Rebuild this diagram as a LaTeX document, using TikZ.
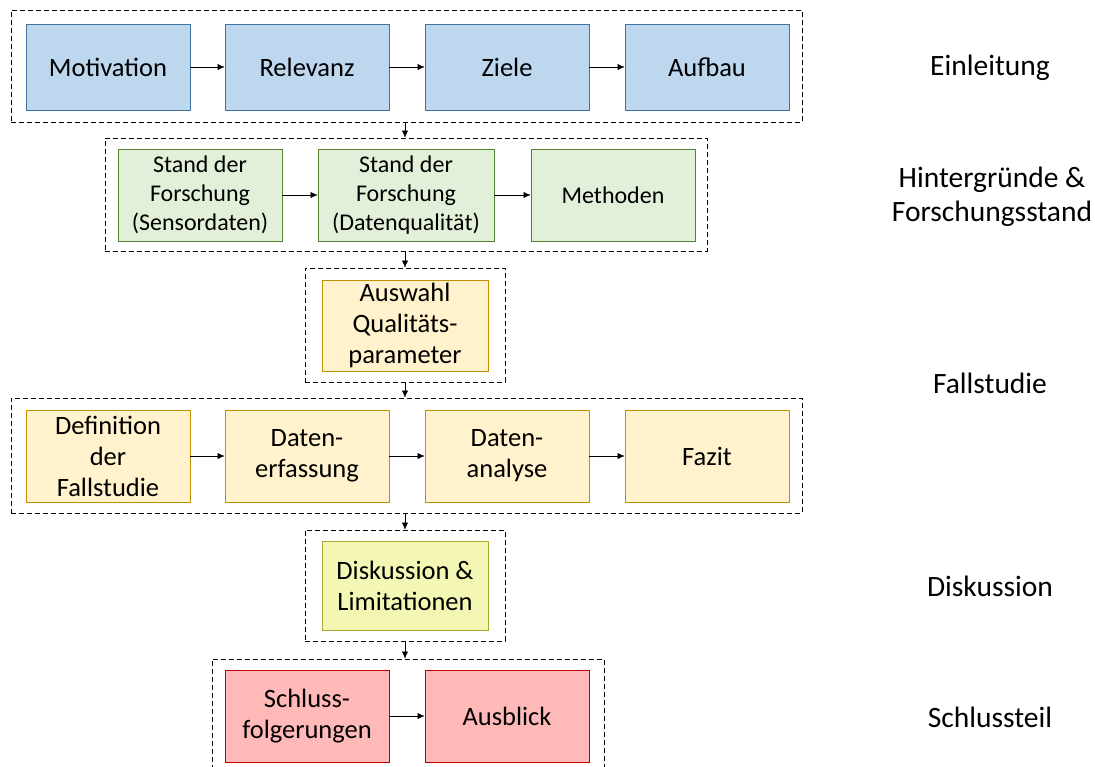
\documentclass[tikz,border=0pt]{standalone}
\usepackage{fontspec}
\setmainfont{Carlito}
\usetikzlibrary{arrows.meta,positioning}

\definecolor{blueFill}{HTML}{BDD7EE}
\definecolor{blueLine}{HTML}{41719C}
\definecolor{greenFill}{HTML}{E2F0D9}
\definecolor{greenLine}{HTML}{548235}
\definecolor{orangeFill}{HTML}{FFF2CC}
\definecolor{orangeLine}{HTML}{BF9000}
\definecolor{yellowFill}{HTML}{F4F7B3}
\definecolor{yellowLine}{HTML}{A8A830}
\definecolor{redFill}{HTML}{FFB9B9}
\definecolor{redLine}{HTML}{C00000}

\begin{document}
\begin{tikzpicture}[x=1pt, y=-1pt,
		basic/.style   = {draw, thick, rectangle, align=center, inner sep=2pt, minimum width=164pt, minimum height=92pt, font=\fontsize{26.5}{31}\selectfont},
		intro/.style   = {basic, fill=blueFill, draw=blueLine, minimum height=86pt},
		back/.style    = {basic, fill=greenFill, draw=greenLine, font=\fontsize{24}{29}\selectfont},
		case/.style    = {basic, fill=orangeFill, draw=orangeLine},
		disc/.style    = {basic, fill=yellowFill, draw=yellowLine, minimum width=166pt, minimum height=89pt},
		concl/.style   = {basic, fill=redFill, draw=redLine},
		group/.style   = {draw, thick, dash pattern=on 5pt off 3pt, rectangle, inner sep=0pt},
		chapter/.style = {align=center, font=\fontsize{29.5}{34}\selectfont},
		>={Latex[length=7pt,width=6pt]}]
		
		\useasboundingbox (0,0) rectangle (1095,766);
		\clip (0,0) rectangle (1095,766);
		
		% dashed frames of the chapters
		\node[group, minimum width=791pt, minimum height=112pt] (g1) at (406.5,66) {};
		\node[group, minimum width=602pt, minimum height=113pt] (g2) at (406,194.5) {};
		\node[group, minimum width=200pt, minimum height=114pt] (g3) at (405,325) {};
		\node[group, minimum width=791pt, minimum height=115pt] (g4) at (406.5,455.5) {};
		\node[group, minimum width=200pt, minimum height=111pt] (g5) at (405,585.5) {};
		\node[group, minimum width=392pt, minimum height=118pt] (g6) at (408,718) {};
		
		% Einleitung
		\begin{scope}[every node/.style={intro}]
			\node (e1) at (108,67) {Motivation};
			\node (e2) at (307,67) {Relevanz};
			\node (e3) at (507,67) {Ziele};
			\node (e4) at (707,67) {Aufbau};
		\end{scope}
		
		% Hintergruende
		\node[back] (h1) at (200,195) {Stand der\\Forschung\\(Sensordaten)};
		\node[back, minimum width=176pt] (h2) at (406,195) {Stand der\\Forschung\\(Datenqualit\"at)};
		\node[back] (h3) at (613,195) {Methoden};
		
		% Fallstudie
		\node[case, minimum width=166pt, minimum height=91pt] (q1) at (405,325.5) {Auswahl\\Qualit\"ats-\\parameter};
		\begin{scope}[every node/.style={case}]
			\node (f1) at (108,456) {De{}finition\\der\\Fallstudie};
			\node (f2) at (307,456) {Daten-\\erfassung};
			\node (f3) at (507,456) {Daten-\\analyse};
			\node (f4) at (707,456) {Fazit};
		\end{scope}
		
		% Diskussion
		\node[disc] (d1) at (405,585.5) {Diskussion \&\\Limitationen};
		
		% Schlussteil
		\node[concl] (s1) at (307,716) {Schluss-\\folgerungen};
		\node[concl] (s2) at (507,716) {Ausblick};
		
		% chapter names
		\node[chapter] (c1) at (990,68) {Einleitung};
		\node[chapter] (c2) at (992,197) {Hintergr\"unde \&\\Forschungsstand};
		\node[chapter] (c3) at (990,383) {Fallstudie};
		\node[chapter] (c4) at (990,586) {Diskussion};
		\node[chapter] (c5) at (990,717) {Schlussteil};
		
		% arrows inside the chapters
		\foreach \a/\b in {e1/e2,e2/e3,e3/e4,h1/h2,h2/h3,f1/f2,f2/f3,f3/f4,s1/s2}
		\draw[->] (\a) -- (\b);
		
		% arrows from chapter to chapter
		\foreach \a/\b in {g1/g2,g2/g3,g3/g4,g4/g5,g5/g6}
		\draw[->] (405,0 |- \a.south) -- (405,0 |- \b.north);
		
	\end{tikzpicture}
\end{document}
